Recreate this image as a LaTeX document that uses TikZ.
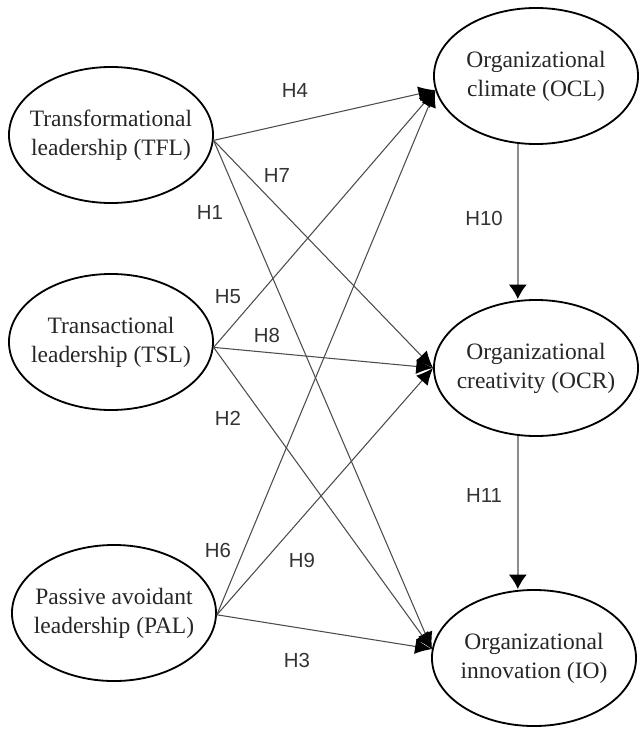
\documentclass[tikz,border=0pt]{standalone}
\usepackage{fontspec}
\setmainfont{Liberation Serif}
\newfontfamily\hypfont{Liberation Sans}
\usetikzlibrary{shapes.geometric}
\usetikzlibrary{arrows.meta}

\tikzset{
	construct/.style={draw, ellipse, line width=1.3pt, minimum width=5.1cm, minimum height=3.4cm, inner sep=0pt},
	cname/.style={align=center, text=black!85, font=\fontsize{16.7}{20.6}\selectfont},
	hyp/.style={text=black!80, font=\hypfont\fontsize{14.5}{16}\selectfont},
	link/.style={draw=black!70, line width=0.75pt, -{Latex[length=4.2mm,width=3.8mm,color=black]}},
	mediate/.style={draw=black!45, line width=1pt, -{Latex[length=3.6mm,width=4.5mm,color=black]}}
}

\begin{document}
\begin{tikzpicture}[x=0.025cm,y=-0.025cm]
	\path[use as bounding box, fill=white] (0,0) rectangle (639,731);
	% constructs
	\node[construct, label={[cname, name=tfl-text]center:Transformational\\leadership (TFL)}] (tfl) at (111,135) {};
	\node[construct, label={[cname, name=tsl-text]center:Transactional\\leadership (TSL)}] (tsl) at (111,342) {};
	\node[construct, label={[cname, name=pal-text]center:Passive avoidant\\leadership (PAL)}] (pal) at (114,613) {};
	\node[construct, label={[cname, name=ocl-text]center:Organizational\\climate (OCL)}] (ocl) at (536,76) {};
	\node[construct, label={[cname, name=ocr-text]center:Organizational\\creativity (OCR)}] (ocr) at (536,368) {};
	\node[construct, label={[cname, name=io-text]center:Organizational\\innovation (IO)}] (io) at (534,658) {};
	\coordinate (tfl-o) at (tfl.-3);
	\coordinate (tsl-o) at (tsl.-3);
	\coordinate (pal-o) at (pal.-1);
	\coordinate (ocl-i) at (ocl.188);
	\coordinate (ocr-i) at (ocr.west);
	\coordinate (io-i) at (io.175);
	\foreach \s in {tfl,tsl,pal}{
		\foreach \t in {ocl,ocr,io}{
			\draw[link] (\s-o) -- (\t-i);
		}
	}
	\draw[mediate] (ocl.255) -- (ocl.255 |- ocr.north);
	\draw[mediate] (ocr.255) -- (ocr.255 |- io.north);
	% hypotheses
	\node[hyp] (h1) at (210,212) {H1};
	\node[hyp] (h2) at (228,418) {H2};
	\node[hyp] (h3) at (297,660) {H3};
	\node[hyp] (h4) at (295,90) {H4};
	\node[hyp] (h5) at (228,297) {H5};
	\node[hyp] (h6) at (218,550) {H6};
	\node[hyp] (h7) at (277,175) {H7};
	\node[hyp] (h8) at (267,335) {H8};
	\node[hyp] (h9) at (302,560) {H9};
	\node[hyp] (h10) at (484,218) {H10};
	\node[hyp] (h11) at (484,495) {H11};
\end{tikzpicture}
\end{document}
